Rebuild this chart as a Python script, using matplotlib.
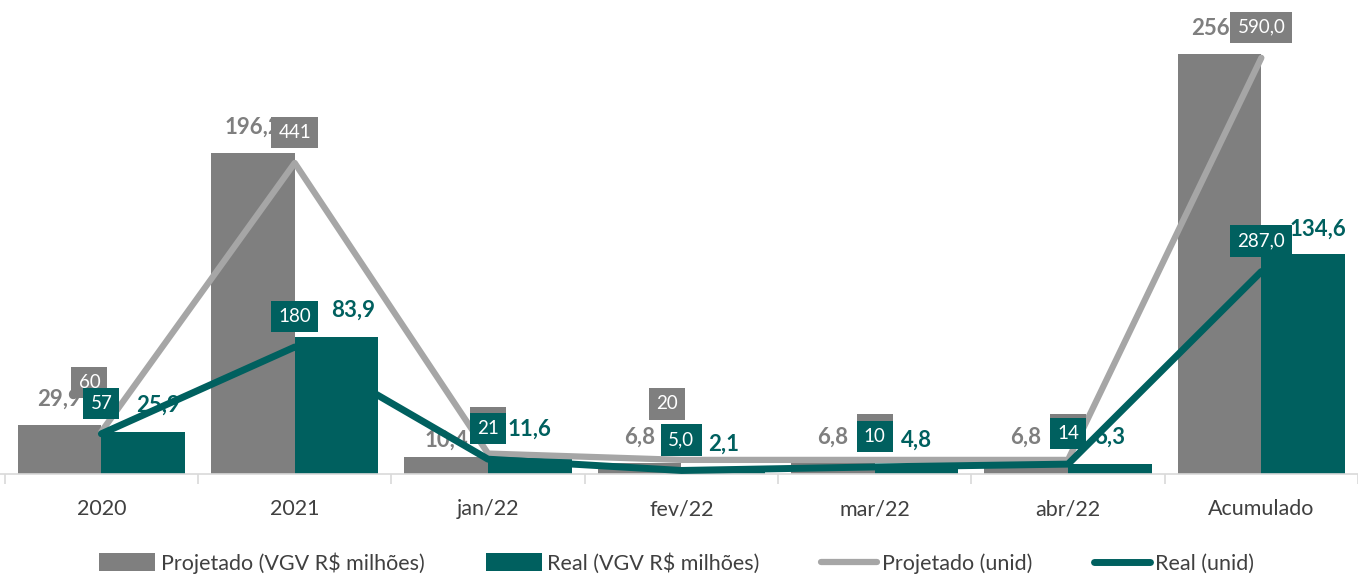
#!/usr/bin/env python3
"""Projected vs. actual launches: VGV (R$ millions) bars and units lines."""

import matplotlib.pyplot as plt
import numpy as np

categories = ["2020", "2021", "jan/22", "fev/22", "mar/22", "abr/22", "Acumulado"]

vgv_projetado = [29.9, 196.2, 10.4, 6.8, 6.8, 6.8, 256.9]
vgv_real = [25.9, 83.9, 11.6, 2.1, 4.8, 6.3, 134.6]

unid_projetado = [60, 441, 29, 20, 20, 20, 590]
unid_real = [57, 180, 21, 5, 10, 14, 287]

# decimals shown on each unit label
dec_projetado = [0, 0, 0, 0, 0, 0, 1]
dec_real = [0, 0, 0, 1, 0, 0, 1]

GRAY = "#7f7f7f"
TEAL = "#00605f"
LIGHT = "#a6a6a6"
AXIS = "#d9d9d9"
TEXT = "#404040"
FONT = ["Lato", "DejaVu Sans"]

STEP = 194.5          # pixels per category
LEFT = 102 - STEP / 2  # pixel of the first category's left edge


def fmt(v, decimals=1):
    return f"{v:.{decimals}f}".replace(".", ",")


def px(v):
    # pixels -> points at dpi 100
    return v * 72 / 100


plt.rcParams["font.family"] = FONT

fig = plt.figure(figsize=(13.58, 5.75), dpi=100)
ax = fig.add_axes([0, 101 / 575, 1, 474 / 575])
ax2 = ax.twinx()

x = np.arange(len(categories))
w = 0.433

bars_p = ax.bar(x - w / 2, vgv_projetado, w, color=GRAY, label="Projetado (VGV R$ milhões)", zorder=2)
bars_r = ax.bar(x + w / 2, vgv_real, w, color=TEAL, label="Real (VGV R$ milhões)", zorder=2)

x0 = -0.5 - LEFT / STEP
ax.set_xlim(x0, x0 + 1358 / STEP)
ax.set_ylim(0, 290)

# label shifts (px) where the value labels were pushed aside
nudge_vgv_p = {2: (0, 17)}
nudge_vgv_r = {0: (15, 26), 1: (17, 27), 6: (15, 25)}

for bars, vals, color, nudge in ((bars_p, vgv_projetado, GRAY, nudge_vgv_p),
                                 (bars_r, vgv_real, TEAL, nudge_vgv_r)):
    for i, (b, v) in enumerate(zip(bars, vals)):
        dx, dy = nudge.get(i, (0, 26))
        ax.annotate(fmt(v), (b.get_x() + b.get_width() / 2, v),
                    xytext=(px(dx), px(dy)), textcoords="offset points",
                    ha="center", va="center", fontsize=16, fontweight="bold",
                    color=color, zorder=3)

line_p, = ax2.plot(x, unid_projetado, color=LIGHT, lw=4.5, solid_capstyle="round",
                   label="Projetado (unid)", zorder=4)
line_r, = ax2.plot(x, unid_real, color=TEAL, lw=5, solid_capstyle="round",
                   label="Real (unid)", zorder=5)
ax2.set_ylim(0, 672)

nudge_unid_p = {0: (-12, 49), 3: (-14, 56)}

for i, (v, d) in enumerate(zip(unid_projetado, dec_projetado)):
    dx, dy = nudge_unid_p.get(i, (0, 30.5))
    ax2.annotate(fmt(v, d), (x[i], v), xytext=(px(dx), px(dy)), textcoords="offset points",
                 ha="center", va="center", fontsize=13.5, color="white", zorder=6,
                 bbox=dict(boxstyle="square,pad=0.38", fc=GRAY, ec="none"))

for i, (v, d) in enumerate(zip(unid_real, dec_real)):
    ax2.annotate(fmt(v, d), (x[i], v), xytext=(0, px(30.5)), textcoords="offset points",
                 ha="center", va="center", fontsize=13.5, color="white", zorder=7,
                 bbox=dict(boxstyle="square,pad=0.38", fc=TEAL, ec="none"))

for a in (ax, ax2):
    for s in ("top", "left", "right"):
        a.spines[s].set_visible(False)
    a.set_yticks([])
ax2.spines["bottom"].set_visible(False)
ax.spines["bottom"].set_color(AXIS)
ax.spines["bottom"].set_linewidth(1.2)

ax.set_xticks(x)
ax.set_xticklabels(categories, fontsize=15.5, color=TEXT)
ax.tick_params(axis="x", which="major", length=0, pad=px(25))
ax.set_xticks(np.arange(-0.5, len(categories)), minor=True)
ax.tick_params(axis="x", which="minor", length=px(10), color=AXIS, width=1.2)

fig.legend(handles=[bars_p, bars_r, line_p, line_r], loc="center",
           bbox_to_anchor=(0.4985, 1 - 563 / 575), ncol=4, frameon=False,
           fontsize=15.5, labelcolor=TEXT, handlelength=2.6, handleheight=0.9,
           handletextpad=0.25, columnspacing=2.85)

fig.savefig("out.png", dpi=100)
